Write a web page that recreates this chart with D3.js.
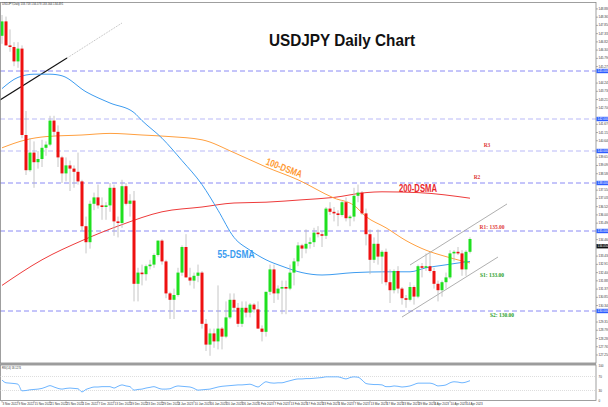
<!DOCTYPE html>
<html><head><meta charset="utf-8">
<script src="https://cdn.jsdelivr.net/npm/d3@7"></script>
<style>body{margin:0;background:#fff;overflow:hidden}svg{display:block}</style>
</head><body>
<svg id="c" width="608" height="407"></svg>
<script>
const dates = ["3 Nov 2022","4 Nov 2022","7 Nov 2022","8 Nov 2022","9 Nov 2022","10 Nov 2022","11 Nov 2022","14 Nov 2022","15 Nov 2022","16 Nov 2022","17 Nov 2022","18 Nov 2022","21 Nov 2022","22 Nov 2022","23 Nov 2022","24 Nov 2022","25 Nov 2022","28 Nov 2022","29 Nov 2022","30 Nov 2022",
"1 Dec 2022","2 Dec 2022","5 Dec 2022","6 Dec 2022","7 Dec 2022","8 Dec 2022","9 Dec 2022","12 Dec 2022","13 Dec 2022","14 Dec 2022","15 Dec 2022","16 Dec 2022","19 Dec 2022","20 Dec 2022","21 Dec 2022","22 Dec 2022","23 Dec 2022","26 Dec 2022","27 Dec 2022","28 Dec 2022","29 Dec 2022","30 Dec 2022",
"2 Jan 2023","3 Jan 2023","4 Jan 2023","5 Jan 2023","6 Jan 2023","9 Jan 2023","10 Jan 2023","11 Jan 2023","12 Jan 2023","13 Jan 2023","16 Jan 2023","17 Jan 2023","18 Jan 2023","19 Jan 2023","20 Jan 2023","23 Jan 2023","24 Jan 2023","25 Jan 2023","26 Jan 2023","27 Jan 2023","30 Jan 2023","31 Jan 2023",
"1 Feb 2023","2 Feb 2023","3 Feb 2023","6 Feb 2023","7 Feb 2023","8 Feb 2023","9 Feb 2023","10 Feb 2023","13 Feb 2023","14 Feb 2023","15 Feb 2023","16 Feb 2023","17 Feb 2023","20 Feb 2023","21 Feb 2023","22 Feb 2023","23 Feb 2023","24 Feb 2023","27 Feb 2023","28 Feb 2023",
"1 Mar 2023","2 Mar 2023","3 Mar 2023","6 Mar 2023","7 Mar 2023","8 Mar 2023","9 Mar 2023","10 Mar 2023","13 Mar 2023","14 Mar 2023","15 Mar 2023","16 Mar 2023","17 Mar 2023","20 Mar 2023","21 Mar 2023","22 Mar 2023","23 Mar 2023","24 Mar 2023","27 Mar 2023","28 Mar 2023","29 Mar 2023","30 Mar 2023","31 Mar 2023",
"3 Apr 2023","4 Apr 2023","5 Apr 2023","6 Apr 2023","7 Apr 2023","10 Apr 2023","11 Apr 2023","12 Apr 2023","13 Apr 2023","14 Apr 2023","17 Apr 2023"];

// open, high, low, close
const ohlc = [
[147.2,148.5,146.7,148.1],[148.1,148.4,146.6,146.6],[146.6,147.6,146.2,146.5],[146.5,146.8,145.3,145.6],[145.6,146.8,145.2,146.4],
[146.4,146.6,140.8,141.0],[141.0,142.5,138.5,138.8],[138.8,140.8,138.7,139.9],[139.9,140.6,137.7,139.3],[139.3,140.0,138.9,139.5],
[139.5,140.7,139.0,140.2],[140.2,140.6,139.7,140.4],[140.4,142.2,140.3,141.9],[141.9,142.2,140.9,141.2],[141.2,141.6,139.0,139.6],
[139.6,139.7,138.0,138.6],[138.6,139.6,138.1,139.1],[139.1,139.4,137.5,138.9],[138.9,139.1,137.7,138.7],[138.7,139.9,137.9,138.1],
[138.1,138.2,135.0,135.3],[135.3,135.9,133.6,134.3],[134.3,136.9,133.9,136.7],[136.7,137.4,136.3,137.1],[137.1,137.9,136.4,136.6],
[136.6,137.1,135.7,136.5],[136.5,136.8,135.7,136.6],[136.6,138.0,136.2,137.7],[137.7,137.9,134.7,135.6],[135.6,135.9,134.6,135.5],
[135.5,138.2,135.2,137.8],[137.8,138.0,136.6,136.7],[136.7,137.3,135.9,136.9],[136.9,137.5,130.6,131.7],[131.7,132.7,130.6,132.4],
[132.4,132.9,131.6,132.3],[132.3,132.9,131.9,132.8],[132.8,133.2,132.6,132.9],[132.9,133.6,132.7,133.5],[133.5,134.4,133.4,134.4],
[134.4,134.5,132.9,133.1],[133.1,133.2,130.8,131.1],[131.1,131.2,129.5,130.7],[130.7,131.4,129.5,131.0],[131.0,132.7,130.9,132.4],
[132.4,134.1,132.2,134.0],[134.0,134.8,132.1,132.1],[132.1,132.7,131.6,131.9],[131.9,132.4,131.4,132.2],[132.2,132.9,131.8,132.4],
[132.4,132.5,128.9,129.2],[129.2,129.5,127.5,127.9],[127.9,128.9,127.2,128.6],[128.6,128.9,127.7,128.1],[128.1,131.6,127.6,128.9],
[128.9,129.0,127.6,128.4],[128.4,130.6,128.3,129.6],[129.6,131.1,129.5,130.7],[130.7,131.1,130.0,130.2],[130.2,130.5,129.0,129.2],
[129.2,130.6,129.0,130.2],[130.2,130.6,129.6,129.9],[129.9,130.5,129.6,130.4],[130.4,130.5,129.9,130.1],[130.1,130.6,128.9,128.9],
[128.9,129.1,128.1,128.7],[128.7,131.2,128.4,131.2],[131.2,132.9,131.0,132.6],[132.6,132.9,130.5,131.1],[131.1,131.6,130.7,131.4],
[131.4,131.9,129.8,131.5],[131.5,131.9,129.8,131.4],[131.4,132.9,131.3,132.4],[132.4,133.3,131.6,133.1],[133.1,134.3,132.8,134.1],
[134.1,134.2,133.3,133.9],[133.9,135.1,133.6,134.2],[134.2,134.6,133.9,134.3],[134.3,135.2,134.0,134.9],[134.9,135.3,134.6,134.8],
[134.8,135.0,134.0,134.7],[134.7,136.5,134.5,136.4],[136.4,136.8,136.0,136.2],[136.2,136.5,135.6,136.1],[136.1,136.3,135.3,136.0],
[136.0,136.9,135.9,136.8],[136.8,137.1,135.6,135.8],[135.8,136.0,135.3,135.9],[135.9,137.7,135.6,137.2],[137.2,137.9,136.8,137.4],
[137.4,137.5,136.0,136.1],[136.1,136.4,134.1,134.8],[134.8,135.1,132.3,133.2],[133.2,134.6,133.0,134.2],[134.2,135.1,132.9,133.4],
[133.4,133.8,131.7,133.7],[133.7,133.9,131.6,131.8],[131.8,132.6,130.5,131.3],[131.3,132.6,131.1,132.5],[132.5,132.8,131.1,131.4],
[131.4,131.5,130.4,130.8],[130.8,131.0,130.2,130.7],[130.7,131.8,130.6,131.5],[131.5,131.6,130.4,130.9],[130.9,132.9,130.8,132.8],
[132.8,133.0,132.1,132.7],[132.7,133.6,132.5,132.8],[132.8,133.7,132.4,132.5],[132.5,132.7,131.4,131.7],[131.7,131.9,130.6,131.3],
[131.3,131.9,130.9,131.8],[131.8,132.4,131.4,132.1],[132.1,133.8,132.0,133.6],[133.6,133.8,133.1,133.7],[133.7,134.0,133.5,133.6],
[133.6,133.8,132.2,132.6],[132.6,133.8,132.2,133.7],[133.7,134.6,133.6,134.5]];

// moving averages sampled at bar indices [bar, value]
const ma55 = [[0,143.9],[4,144.6],[8,144.8],[12,144.8],[15,144.7],[21,143.7],[27,143.0],[33,142.4],[35,141.9],[40,140.8],[45,139.4],[50,137.9],[54,136.3],[58,134.6],[62,133.8],[66,133.2],[70,132.8],[75,132.4],[80,132.25],[88,132.4],[96,132.45],[102,132.45],[106,132.7],[110,132.85],[114,133.0],[117,133.1]];
const ma100 = [[0,140.2],[6,140.7],[11,140.9],[20,141.0],[27,141.1],[35,141.0],[42,140.9],[50,140.7],[58,139.9],[66,139.0],[74,138.2],[83,137.06],[88,136.6],[91,135.9],[96,135.2],[101,134.4],[106,133.8],[111,133.4],[117,133.0]];
const ma200 = [[0,131.6],[10,133.2],[20,134.4],[30,135.4],[40,136.2],[50,136.5],[58,136.75],[66,136.8],[75,136.95],[83,137.1],[91,137.4],[95,137.45],[104,137.4],[117,137.05]];

const rsi = [60,52,51,50,48,29,30,32,33,34,36,40,44,40,36,34,36,37,36,35,
26,33,37,40,40,41,41,41,37,42,46,43,41,31,33,34,37,39,41,37,34,34,
35,40,43,42,41,40,36,31,32,33,34,37,40,42,43,44,45,46,46,47,48,44,
40,48,55,52,51,52,52,55,58,61,63,63,64,64,65,66,67,69,69,69,
69,66,63,67,69,68,60,50,48,47,47,46,41,41,43,42,40,41,43,47,51,51,51,
51,48,43,44,46,52,55,54,52,54,58];

const levels = [145, 142, 140, 138, 135, 130];
const levelStrong = [true, false, false, true, true, true];
const lastPrice = 134.05;
const priceTicks = ["148.880","148.365","147.850","147.335","146.820","146.305","145.790","145.275","144.760","144.245","143.730","143.215","142.700","142.185","141.670","141.155","140.640","140.125","139.610","139.095","138.580","138.065","137.550","137.035","136.520","136.005","135.490","134.975","134.460","133.945","133.430","132.915","132.400","131.885","131.370","130.855","130.340","129.825","129.310","128.795","128.280","127.765","127.250"];
const rsiTicks = [100, 70, 30, 0];
const rsiLevels = [70, 30];

// trendlines [bar, price]
const trendBlack = [[-0.5,143.19],[16.25,145.81]];
const trendDotted = [[16.25,145.81],[30,148.0]];
const chanUpper = [[102,132.875],[126.25,136.69]];
const chanLower = [[100,129.625],[124,133.375]];

const levelLabels = [
  {t:"R3", v:140.4, b:121.25, c:"#e03a3a"},
  {t:"R2", v:138.35, b:118.75, c:"#e03a3a"},
  {t:"R1: 135.00", v:135.25, b:122.5, c:"#e03a3a"},
  {t:"S1: 133.00", v:132.25, b:122.5, c:"#2aa02a"},
  {t:"S2: 130.00", v:129.75, b:125, c:"#2aa02a"}
];

const svg = d3.select("#c");
const W = 596, topY = 2, mainBottom = 363;
const x = d3.scaleLinear().domain([0,117]).range([2,470]);
const y = d3.scaleLinear().domain([127,149]).range([359,7]);
const yr = d3.scaleLinear().domain([0,100]).range([401,366]);

const defs = svg.append("defs");
defs.append("clipPath").attr("id","clipMain")
  .append("rect").attr("x",0).attr("y",topY).attr("width",W).attr("height",mainBottom-topY);
defs.append("clipPath").attr("id","clipSub")
  .append("rect").attr("x",0).attr("y",365).attr("width",W).attr("height",35);

const main = svg.append("g").attr("clip-path","url(#clipMain)");

// horizontal levels
levels.forEach((v,k)=>{
  main.append("line").attr("x1",0).attr("x2",W).attr("y1",y(v)).attr("y2",y(v))
    .attr("stroke", levelStrong[k] ? "#8a8af5" : "#b9b9f7")
    .attr("stroke-width",1).attr("stroke-dasharray","5,3");
});

// trendlines
const ln = d3.line().x(d=>x(d[0])).y(d=>y(d[1]));
main.append("path").attr("d",ln(trendBlack)).attr("stroke","#111").attr("stroke-width",1.1).attr("fill","none");
main.append("path").attr("d",ln(trendDotted)).attr("stroke","#aaa").attr("stroke-width",0.8).attr("stroke-dasharray","1,1").attr("fill","none");
main.append("path").attr("d",ln(chanUpper)).attr("stroke","#9a9a9a").attr("stroke-width",0.8).attr("fill","none");
main.append("path").attr("d",ln(chanLower)).attr("stroke","#9a9a9a").attr("stroke-width",0.8).attr("fill","none");

// moving averages
const cl = d3.line().x(d=>x(d[0])).y(d=>y(d[1])).curve(d3.curveMonotoneX);
main.append("path").attr("d",cl(ma200)).attr("stroke","#ee3b3b").attr("stroke-width",1).attr("fill","none");
main.append("path").attr("d",cl(ma100)).attr("stroke","#ffa040").attr("stroke-width",1).attr("fill","none");
main.append("path").attr("d",cl(ma55)).attr("stroke","#3d9cf0").attr("stroke-width",1).attr("fill","none");

// candles
const cg = main.append("g");
ohlc.forEach((d,i)=>{
  const [o,h,l,c] = d;
  const up = c >= o;
  cg.append("line").attr("x1",x(i)).attr("x2",x(i)).attr("y1",y(h)).attr("y2",y(l))
    .attr("stroke","#b8b8b8").attr("stroke-width",0.8);
  const y0 = y(Math.max(o,c)), y1 = y(Math.min(o,c));
  cg.append("rect").attr("x",x(i)-1.5).attr("width",3)
    .attr("y",y0).attr("height",Math.max(0.8,y1-y0))
    .attr("fill", up ? "#1fe01f" : "#ee1111");
});

// frame
svg.append("rect").attr("x",0.5).attr("y",topY+0.5).attr("width",W-0.5).attr("height",mainBottom-topY-0.5)
  .attr("fill","none").attr("stroke","#888").attr("stroke-width",0.8);
svg.append("line").attr("x1",0).attr("x2",W).attr("y1",364).attr("y2",364).attr("stroke","#8c8c8c").attr("stroke-width",1.6);
svg.append("rect").attr("x",0.5).attr("y",365).attr("width",W-0.5).attr("height",35.5)
  .attr("fill","none").attr("stroke","#888").attr("stroke-width",0.8);

// price axis
const ax = svg.append("g").attr("font-family","Liberation Sans, Arial, sans-serif").attr("font-size",3).attr("fill","#333");
priceTicks.forEach(t=>{
  const v = +t, yy = y(v);
  if (levels.some(L=>Math.abs(y(L)-yy)<4) || Math.abs(y(lastPrice)-yy)<4) return;
  ax.append("line").attr("x1",W).attr("x2",W+2).attr("y1",yy).attr("y2",yy).attr("stroke","#666").attr("stroke-width",0.5);
  ax.append("text").attr("x",W+2.5).attr("y",yy+1).text(t);
});
levels.forEach(v=>{
  ax.append("rect").attr("x",W+0.5).attr("y",y(v)-2.2).attr("width",11.5).attr("height",4.4).attr("fill","#2d5cff");
  ax.append("text").attr("x",W+1.5).attr("y",y(v)+1.1).attr("fill","#fff").text(v.toFixed(3));
});
ax.append("rect").attr("x",W+0.5).attr("y",y(lastPrice)-2.2).attr("width",11.5).attr("height",4.4).attr("fill","#111");
ax.append("text").attr("x",W+1.5).attr("y",y(lastPrice)+1.1).attr("fill","#fff").text(lastPrice.toFixed(3));

// RSI panel
const sub = svg.append("g").attr("clip-path","url(#clipSub)");
rsiLevels.forEach(v=>{
  sub.append("line").attr("x1",0).attr("x2",W).attr("y1",yr(v)).attr("y2",yr(v))
    .attr("stroke","#c8c8c8").attr("stroke-width",0.6).attr("stroke-dasharray","1,1");
});
sub.append("path").datum(rsi).attr("d",d3.line().x((d,i)=>x(i)).y(d=>yr(d)).curve(d3.curveMonotoneX))
  .attr("fill","none").attr("stroke","#6fb6ff").attr("stroke-width",1);
rsiTicks.forEach(v=>{
  ax.append("text").attr("x",W+2.5).attr("y",yr(v)+1).text(v);
});
svg.append("text").attr("x",2).attr("y",368.5).attr("font-family","Liberation Sans, Arial, sans-serif")
  .attr("font-size",2.6).attr("fill","#333").text("RSI(14) 58.1274");

// date axis
const dx = svg.append("g").attr("font-family","Liberation Sans, Arial, sans-serif").attr("font-size",3).attr("fill","#333");
dates.forEach((d,i)=>{
  if (i % 4) return;
  dx.append("line").attr("x1",x(i)).attr("x2",x(i)).attr("y1",401).attr("y2",402.5).attr("stroke","#666").attr("stroke-width",0.5);
  dx.append("text").attr("x",x(i)+0.5).attr("y",405).text(d);
});

// header
svg.append("text").attr("x",2).attr("y",4.6).attr("font-family","Liberation Sans, Arial, sans-serif")
  .attr("font-size",2.8).attr("fill","#333").text("USDJPY,Daily  133.718 134.578 133.564 134.491");

// title
svg.append("text").attr("x",342).attr("y",46).attr("text-anchor","middle")
  .attr("font-family","Liberation Sans, Arial, sans-serif").attr("font-weight","bold")
  .attr("font-size",17).attr("textLength",146).attr("lengthAdjust","spacingAndGlyphs")
  .attr("fill","#111").text("USDJPY Daily Chart");

// MA labels
const lab = svg.append("g").attr("font-family","Liberation Sans, Arial, sans-serif").attr("font-weight","bold");
lab.append("text").attr("transform",`translate(${x(70.25)},${y(138.75)}) rotate(21)`).attr("text-anchor","middle")
  .attr("font-size",10).attr("textLength",38).attr("lengthAdjust","spacingAndGlyphs").attr("fill","#ff9a33").text("100-DSMA");
lab.append("text").attr("x",x(104)).attr("y",y(137.45)).attr("text-anchor","middle")
  .attr("font-size",10).attr("textLength",38).attr("lengthAdjust","spacingAndGlyphs").attr("fill","#e8262b").text("200-DSMA");
lab.append("text").attr("x",x(58.5)).attr("y",y(133.3)).attr("text-anchor","middle")
  .attr("font-size",10).attr("textLength",37).attr("lengthAdjust","spacingAndGlyphs").attr("fill","#3a9cf0").text("55-DSMA");

// level labels
const ll = svg.append("g").attr("font-family","Liberation Serif, serif").attr("font-weight","bold").attr("font-size",5.5);
levelLabels.forEach(d=>{
  ll.append("text").attr("x",x(d.b)).attr("y",y(d.v)+1.9).attr("text-anchor","middle").attr("fill",d.c).text(d.t);
});
</script>
</body></html>
